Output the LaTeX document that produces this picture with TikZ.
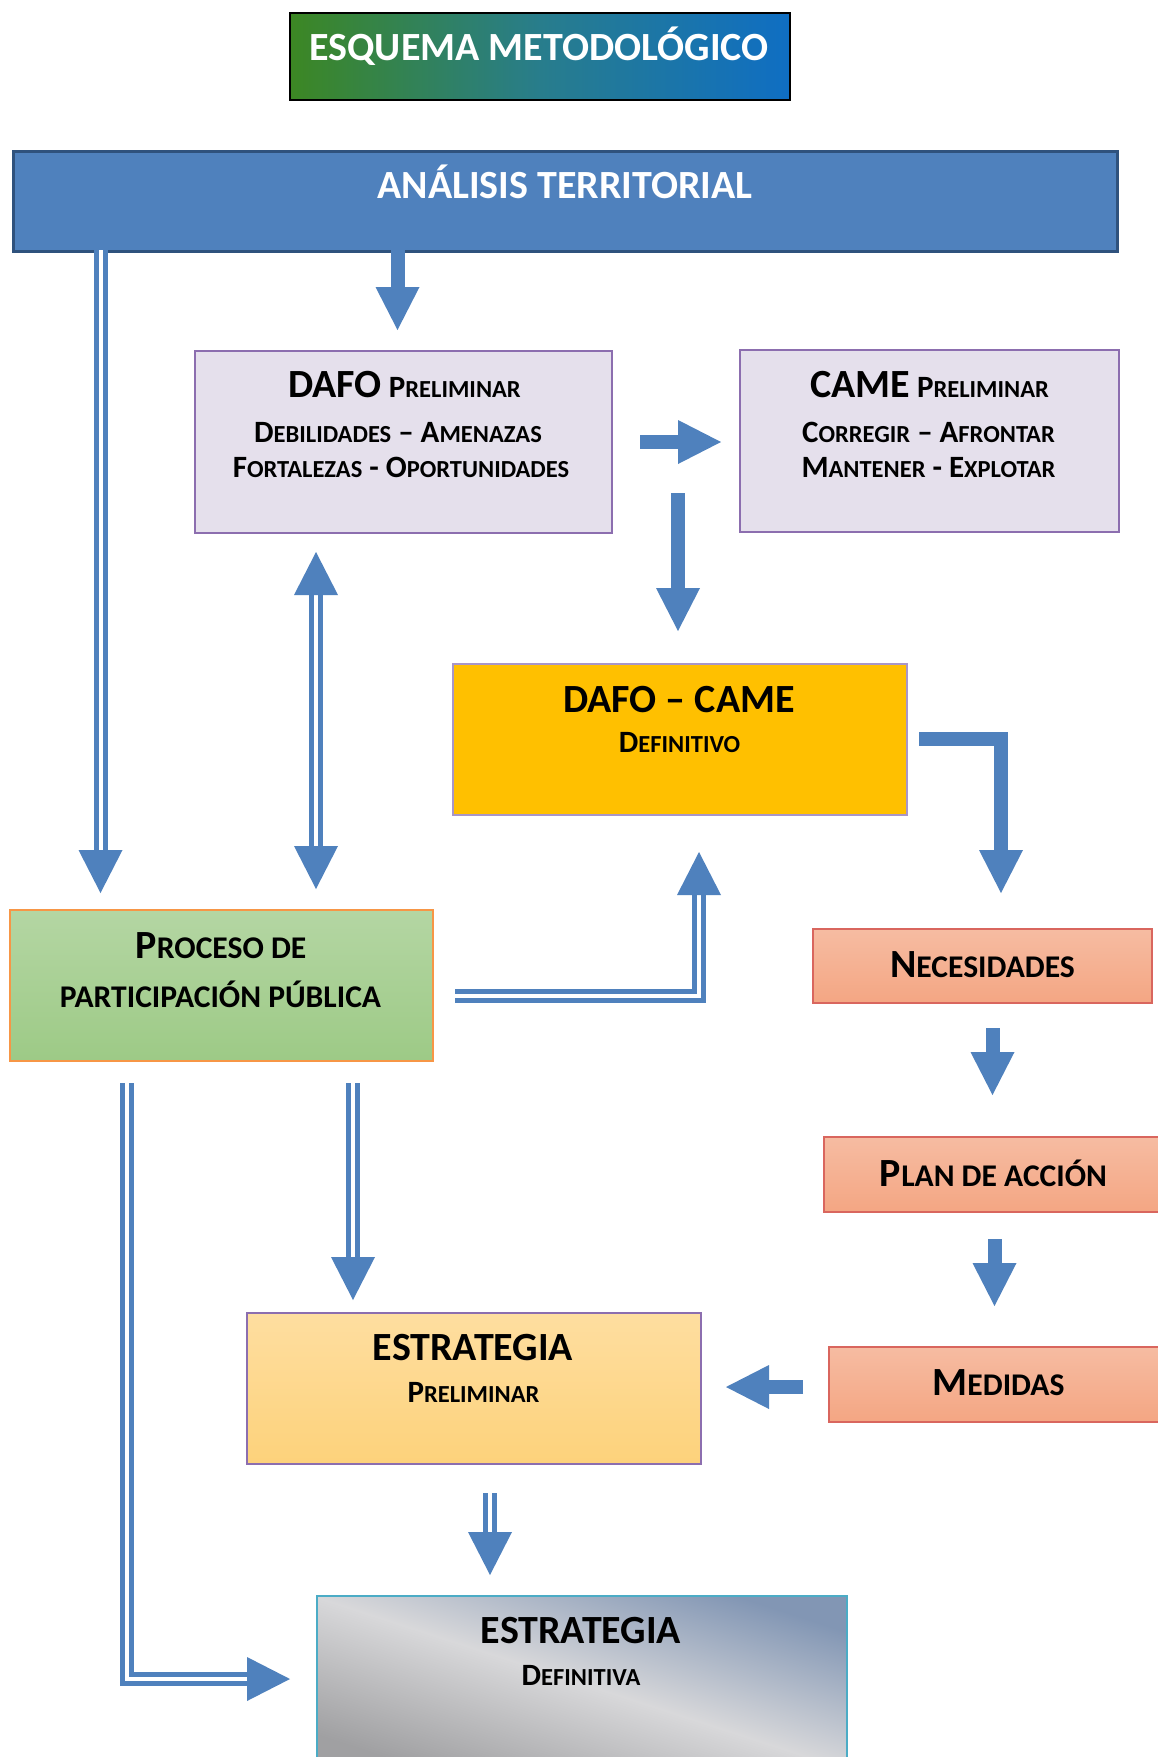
\documentclass[tikz,border=0pt]{standalone}
\usepackage{fontspec}
\setmainfont{Carlito}
\usetikzlibrary{calc}
\definecolor{abl}{RGB}{79,129,189}
\definecolor{anaB}{RGB}{47,82,125}
\definecolor{lila}{RGB}{229,224,236}
\definecolor{purp}{RGB}{140,110,175}
\definecolor{purpl}{RGB}{168,150,200}
\definecolor{gold}{RGB}{255,192,0}
\definecolor{grT}{RGB}{180,214,163}
\definecolor{grB}{RGB}{157,202,134}
\definecolor{orB}{RGB}{247,150,70}
\definecolor{saT}{RGB}{246,188,162}
\definecolor{saB}{RGB}{244,166,131}
\definecolor{reB}{RGB}{217,102,94}
\definecolor{yeT}{RGB}{254,222,160}
\definecolor{yeB}{RGB}{253,210,123}
\definecolor{sgT}{RGB}{130,150,180}
\definecolor{sgM}{RGB}{216,216,218}
\definecolor{sgB}{RGB}{160,160,162}
\definecolor{cyB}{RGB}{75,172,198}
\definecolor{tgL}{RGB}{60,135,35}
\definecolor{tgM}{RGB}{40,125,140}
\definecolor{tgR}{RGB}{15,110,195}
\newcommand\bigf{\fontsize{40pt}{44pt}\selectfont}
\newcommand\midf{\fontsize{31pt}{34pt}\selectfont}
\newcommand\smA[1]{{\fontsize{31.6pt}{34pt}\selectfont #1}}
\newcommand\smB[1]{{\fontsize{24.5pt}{27pt}\selectfont #1}}
\tikzset{
  box/.style={draw, rectangle, inner sep=0pt, anchor=north west},
  txt/.style={anchor=base, inner sep=0pt, font=\bfseries\midf},
  sh/.style={draw=abl, line width=14pt, line cap=butt, line join=miter},
  dsh/.style={draw=abl, line width=5pt, double=white, double distance=4pt, line cap=butt, line join=miter},
  hd/.pic={\fill[abl] (0,0) -- (-22,-43) -- (22,-43) -- cycle;},
  hu/.pic={\fill[abl] (0,0) -- (-22,43) -- (22,43) -- cycle;},
  hr/.pic={\fill[abl] (0,0) -- (-43,-22) -- (-43,22) -- cycle;},
  hl/.pic={\fill[abl] (0,0) -- (43,-22) -- (43,22) -- cycle;},
}
\begin{document}
\begin{tikzpicture}[x=1pt,y=-1pt]
\fill[white] (0,0) rectangle (1158,1757);
\useasboundingbox (0,0) rectangle (1158,1757);
% boxes
\node[box, line width=2pt, draw=black, left color=tgL, right color=tgR, middle color=tgM, minimum width=500pt, minimum height=87pt] (title) at (289,12) {};
\node[box, line width=3pt, draw=anaB, fill=abl, minimum width=1104pt, minimum height=100pt] (ana) at (12,150) {};
\node[box, line width=1.5pt, draw=purp, fill=lila, minimum width=417pt, minimum height=182pt] (dafo) at (194,350) {};
\node[box, line width=1.5pt, draw=purp, fill=lila, minimum width=379pt, minimum height=182pt] (came) at (739,349) {};
\node[box, line width=1.5pt, draw=purpl, fill=gold, minimum width=454pt, minimum height=151pt] (dc) at (452,663) {};
\node[box, line width=2pt, draw=orB, top color=grT, bottom color=grB, minimum width=423pt, minimum height=151pt] (proc) at (9,909) {};
\node[box, line width=1.5pt, draw=reB, top color=saT, bottom color=saB, minimum width=339pt, minimum height=74pt] (nec) at (812,928) {};
\node[box, line width=1.5pt, draw=reB, top color=saT, bottom color=saB, minimum width=347pt, minimum height=75pt] (plan) at (823,1136) {};
\node[box, line width=1.5pt, draw=reB, top color=saT, bottom color=saB, minimum width=342pt, minimum height=75pt] (med) at (828,1346) {};
\node[box, line width=1.5pt, draw=purp, top color=yeT, bottom color=yeB, minimum width=454pt, minimum height=151pt] (ep) at (246,1312) {};
\node[box, line width=1.5pt, draw=cyB, top color=sgT, bottom color=sgB, middle color=sgM, shading angle=-18, minimum width=530pt, minimum height=175pt] (ed) at (316,1595) {};
% texts
\node[txt, text=white] (tTitle) at (539,60) {\bigf ESQUEMA METODOLÓGICO};
\node[txt, text=white] (tAna) at (565,198) {\bigf ANÁLISIS TERRITORIAL};
\node[txt] (tDafo1) at (404.5,397) {{\bigf DAFO} P\smB{RELIMINAR}};
\node[txt] (tDafo2) at (398,442) {D\smB{EBILIDADES} – A\smB{MENAZAS}};
\node[txt] (tDafo3) at (401,477) {F\smB{ORTALEZAS} - O\smB{PORTUNIDADES}};
\node[txt] (tCame1) at (929.5,397) {{\bigf CAME} P\smB{RELIMINAR}};
\node[txt] (tCame2) at (928.5,442) {C\smB{ORREGIR} – A\smB{FRONTAR}};
\node[txt] (tCame3) at (928.5,477) {M\smB{ANTENER} - E\smB{XPLOTAR}};
\node[txt] (tDc1) at (679,712) {\bigf DAFO – CAME};
\node[txt] (tDc2) at (679.5,752) {D\smB{EFINITIVO}};
\node[txt] (tProc1) at (221,958) {\bigf P\smA{ROCESO DE}};
\node[txt] (tProc2) at (220.5,1007) {\smA{PARTICIPACIÓN PÚBLICA}};
\node[txt] (tNec) at (982.5,977) {\bigf N\smA{ECESIDADES}};
\node[txt] (tPlan) at (993.5,1186) {\bigf P\smA{LAN DE ACCIÓN}};
\node[txt] (tMed) at (998.5,1395) {\bigf M\smA{EDIDAS}};
\node[txt] (tEp1) at (473,1360) {\bigf ESTRATEGIA};
\node[txt] (tEp2) at (473.5,1402) {P\smB{RELIMINAR}};
\node[txt] (tEd1) at (581,1643) {\bigf ESTRATEGIA};
\node[txt] (tEd2) at (581,1685) {D\smB{EFINITIVA}};
% arrow end points
\coordinate (a1s) at (100.5,250);  \coordinate (a1t) at (100.5,893);
\coordinate (a2s) at (397.5,250);  \coordinate (a2t) at (397.5,330);
\coordinate (a3u) at (316,552);    \coordinate (a3d) at (316,889);
\coordinate (a4s) at (640,442);    \coordinate (a4t) at (721,442);
\coordinate (a5s) at (678,493);    \coordinate (a5t) at (678,631);
\coordinate (a6s) at (919,738.5);  \coordinate (a6t) at (1001,893);
\coordinate (a7s) at (992.5,1028); \coordinate (a7t) at (992.5,1095);
\coordinate (a8s) at (994.5,1239); \coordinate (a8t) at (994.5,1306);
\coordinate (a9s) at (803,1387);   \coordinate (a9t) at (726,1387);
\coordinate (a10s) at (455,996);   \coordinate (a10t) at (699,852);
\coordinate (a11s) at (353,1083);  \coordinate (a11t) at (353,1300);
\coordinate (a12s) at (126.5,1083); \coordinate (a12t) at (290,1679);
\coordinate (a13s) at (490,1493);  \coordinate (a13t) at (490,1575);
% arrows
\draw[dsh] (a1s) -- ($(a1t)+(0,-42)$); \pic at (a1t) {hd};
\draw[sh] (a2s) -- ($(a2t)+(0,-42)$); \pic at (a2t) {hd};
\draw[dsh] ($(a3u)+(0,42)$) -- ($(a3d)+(0,-42)$); \pic at (a3u) {hu}; \pic at (a3d) {hd};
\draw[sh] (a4s) -- ($(a4t)+(-42,0)$); \pic at (a4t) {hr};
\draw[sh] (a5s) -- ($(a5t)+(0,-42)$); \pic at (a5t) {hd};
\draw[sh] (a6s) -| ($(a6t)+(0,-42)$); \pic at (a6t) {hd};
\draw[sh] (a7s) -- ($(a7t)+(0,-42)$); \pic at (a7t) {hd};
\draw[sh] (a8s) -- ($(a8t)+(0,-42)$); \pic at (a8t) {hd};
\draw[sh] (a9s) -- ($(a9t)+(42,0)$); \pic at (a9t) {hl};
\draw[dsh] (a10s) -| ($(a10t)+(0,42)$); \pic at (a10t) {hu};
\draw[dsh] (a11s) -- ($(a11t)+(0,-42)$); \pic at (a11t) {hd};
\draw[dsh] (a12s) |- ($(a12t)+(-42,0)$); \pic at (a12t) {hr};
\draw[dsh] (a13s) -- ($(a13t)+(0,-42)$); \pic at (a13t) {hd};
\end{tikzpicture}
\end{document}
